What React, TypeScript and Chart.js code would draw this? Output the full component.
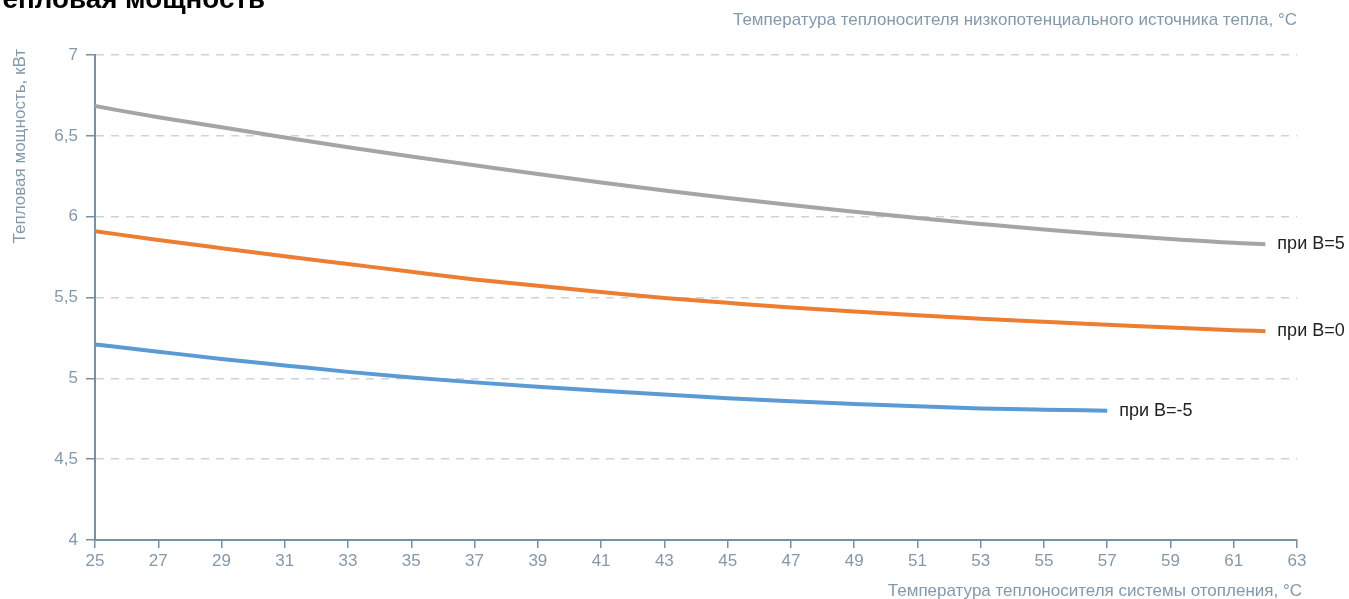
import React, { useEffect, useRef } from "react";
import { Chart, registerables } from "chart.js";

Chart.register(...registerables);

// ---- Data ----
const xB5 = [25, 27, 29, 31, 33, 35, 37, 39, 41, 43, 45, 47, 49, 51, 53, 55, 57, 59, 61, 62];
const yB5 = [6.684, 6.615, 6.553, 6.49, 6.43, 6.372, 6.318, 6.264, 6.212, 6.162, 6.116, 6.072, 6.03, 5.992, 5.955, 5.92, 5.89, 5.862, 5.838, 5.83];

const xB0 = [25, 27, 29, 31, 33, 35, 37, 39, 41, 43, 45, 47, 49, 51, 53, 55, 57, 59, 61, 62];
const yB0 = [5.91, 5.856, 5.805, 5.755, 5.707, 5.659, 5.612, 5.572, 5.534, 5.497, 5.467, 5.438, 5.413, 5.39, 5.369, 5.35, 5.332, 5.314, 5.298, 5.292];

const xBm5 = [25, 27, 29, 31, 33, 35, 37, 39, 41, 43, 45, 47, 49, 51, 53, 55, 57];
const yBm5 = [5.21, 5.165, 5.12, 5.08, 5.04, 5.005, 4.975, 4.948, 4.923, 4.9, 4.877, 4.858, 4.842, 4.827, 4.814, 4.806, 4.8];

const seriesLabels = ["при В=5", "при В=0", "при В=-5"];
const seriesColors = ["#a5a5a5", "#ed7d31", "#5b9bd5"];

const chartTitle = "Тепловая мощность";
const yTitle = "Тепловая мощность, кВт";
const xTitle = "Температура теплоносителя системы отопления, °C";
const topTitle = "Температура теплоносителя низкопотенциального источника тепла, °C";

const xMin = 25, xMax = 63, xStep = 2;
const yMin = 4, yMax = 7, yStep = 0.5;

const FONT = "'Liberation Sans', Arial, Helvetica, sans-serif";
const AXIS_TEXT = "#8299ac";
const AXIS_LINE = "#7690a5";
const GRID = "#c9d4de";

const toPoints = (xs: number[], ys: number[]) => xs.map((x, i) => ({ x, y: ys[i] }));

const textPlugin = {
  id: "textPlugin",
  afterDraw(chart: any) {
    const ctx = chart.ctx;
    const xs = chart.scales.x;
    const ys = chart.scales.y;
    ctx.save();
    // end-of-line labels
    ctx.font = `18px ${FONT}`;
    ctx.fillStyle = "#222222";
    ctx.textAlign = "left";
    ctx.textBaseline = "middle";
    chart.data.datasets.forEach((ds: any) => {
      const last = ds.data[ds.data.length - 1];
      ctx.fillText(ds.label, xs.getPixelForValue(last.x) + 12, ys.getPixelForValue(last.y));
    });
    // axis titles
    ctx.font = `17px ${FONT}`;
    ctx.fillStyle = AXIS_TEXT;
    ctx.textAlign = "right";
    ctx.fillText(topTitle, chart.chartArea.right, 20);
    ctx.fillText(xTitle, chart.chartArea.right + 5, 591);
    ctx.save();
    ctx.translate(20, 49);
    ctx.rotate(-Math.PI / 2);
    ctx.textAlign = "right";
    ctx.fillText(yTitle, 0, 0);
    ctx.restore();
    // cut-off chart title
    ctx.font = `bold 100px ${FONT}`;
    const w = ctx.measureText("мощность").width;
    const size = (140 / w) * 100;
    ctx.font = `bold ${size}px ${FONT}`;
    ctx.fillStyle = "#000000";
    ctx.textAlign = "right";
    ctx.textBaseline = "alphabetic";
    ctx.fillText(chartTitle, 265, 8);
    ctx.restore();
  },
};

export default function App() {
  const ref = useRef<HTMLCanvasElement | null>(null);
  useEffect(() => {
    if (!ref.current) return;
    const mk = (i: number, xs: number[], ys: number[]) => ({
      label: seriesLabels[i],
      data: toPoints(xs, ys),
      borderColor: seriesColors[i],
      backgroundColor: seriesColors[i],
      borderWidth: 4,
      pointRadius: 0,
      pointHoverRadius: 0,
      fill: false,
      cubicInterpolationMode: "monotone" as const,
    });
    const chart = new Chart(ref.current, {
      type: "line",
      data: {
        datasets: [mk(0, xB5, yB5), mk(1, xB0, yB0), mk(2, xBm5, yBm5)],
      },
      options: {
        animation: false,
        responsive: false,
        devicePixelRatio: 1,
        layout: { padding: { left: 0, right: 52, top: 55, bottom: 0 } },
        plugins: { legend: { display: false }, tooltip: { enabled: false }, title: { display: false } },
        scales: {
          x: {
            type: "linear",
            min: xMin,
            max: xMax,
            afterFit: (s: any) => { s.height = 59; },
            ticks: {
              stepSize: xStep,
              color: AXIS_TEXT,
              font: { family: FONT, size: 17 },
              padding: 3,
              maxRotation: 0,
              autoSkip: false,
            },
            grid: { display: true, drawOnChartArea: false, tickLength: 8, tickColor: AXIS_LINE, lineWidth: 1.5 },
            border: { display: true, color: AXIS_LINE, width: 2 },
          },
          y: {
            type: "linear",
            min: yMin,
            max: yMax,
            afterFit: (s: any) => { s.width = 95; },
            ticks: {
              stepSize: yStep,
              color: AXIS_TEXT,
              font: { family: FONT, size: 17 },
              padding: 8,
              callback: (v: any) => String(v).replace(".", ","),
            },
            grid: { display: true, color: GRID, lineWidth: 1.5, tickLength: 9, tickColor: AXIS_LINE, tickWidth: 1.5 },
            border: { display: true, color: AXIS_LINE, width: 2, dash: [8, 7] },
          },
        },
      },
      plugins: [textPlugin],
    });
    return () => chart.destroy();
  }, []);
  return (
    <div style={{ position: "absolute", left: 0, top: 0, width: 1349, height: 599, background: "#fff" }}>
      <canvas ref={ref} width={1349} height={599} style={{ width: 1349, height: 599, display: "block" }} />
    </div>
  );
}
